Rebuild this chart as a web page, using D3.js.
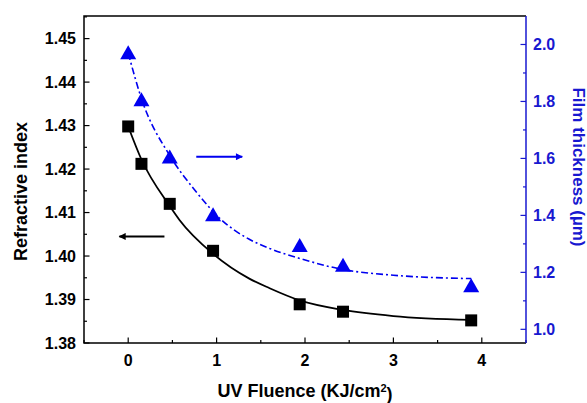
<!DOCTYPE html>
<html>
<head>
<meta charset="utf-8">
<script src="https://cdn.jsdelivr.net/npm/d3@7"></script>
<style>
	body { margin: 0; background: #fff; }
	text { font-family: "Liberation Sans", Arial, sans-serif; font-weight: bold; }
</style>
</head>
<body>
<script>
// measured points
const fluence = [0, 0.15, 0.47, 0.96, 1.94, 2.43, 3.88];
const refIndex = [1.4298, 1.4212, 1.4120, 1.4012, 1.3889, 1.3872, 1.3852];
const thickness = [1.973, 1.808, 1.607, 1.404, 1.296, 1.227, 1.155];

// fitted curves
const fitX = [0, 0.15, 0.47, 0.58, 0.96, 1.37, 1.6, 1.94, 2.43, 3.0, 3.88];
const fitIndex = [1.4298, 1.4222, 1.4115, 1.4083, 1.4005, 1.3948, 1.3926, 1.3898, 1.3876, 1.3862, 1.3853];
const fitBlueX = [0, 0.15, 0.47, 0.75, 1.07, 1.37, 1.6, 1.94, 2.43, 3.0, 3.88];
const fitThick = [1.97, 1.81, 1.61, 1.49, 1.38, 1.316, 1.284, 1.249, 1.21, 1.19, 1.178];

const xTicks = [0, 1, 2, 3, 4];
const leftTicks = [1.38, 1.39, 1.40, 1.41, 1.42, 1.43, 1.44, 1.45];
const rightTicks = [1.0, 1.2, 1.4, 1.6, 1.8, 2.0];

const width = 587, height = 403;
const margin = {top: 16, right: 61, bottom: 60, left: 84};
const blue = '#0000f0';
const axisBlue = '#1818d0';

let svg = d3.select('body').append('svg')
	.attr('width', width)
	.attr('height', height);

let x = d3.scaleLinear().domain([-0.5, 4.5]).range([margin.left, width - margin.right]);
let yL = d3.scaleLinear().domain([1.38, 1.4552]).range([height - margin.bottom, margin.top]);
let yR = d3.scaleLinear().domain([0.952, 2.1]).range([height - margin.bottom, margin.top]);

let x0 = margin.left, x1 = width - margin.right;
let y0 = height - margin.bottom, y1 = margin.top;

// minor ticks
let minorX = d3.range(-0.5, 4.51, 0.5).filter(v => Math.abs(v - Math.round(v)) > 0.01);
let minorL = d3.range(1.385, 1.455, 0.01);
let minorR = d3.range(1.1, 2.0, 0.2);

let g = svg.append('g');
g.selectAll('.mx').data(minorX).enter().append('line')
	.attr('x1', d => x(d)).attr('x2', d => x(d))
	.attr('y1', y0).attr('y2', y0 - 3)
	.style('stroke', '#000').style('stroke-width', 1.2);
g.selectAll('.Mx').data(xTicks).enter().append('line')
	.attr('x1', d => x(d)).attr('x2', d => x(d))
	.attr('y1', y0).attr('y2', y0 - 5.5)
	.style('stroke', '#000').style('stroke-width', 1.2);
g.selectAll('.ml').data(minorL).enter().append('line')
	.attr('x1', x0).attr('x2', x0 + 3)
	.attr('y1', d => yL(d)).attr('y2', d => yL(d))
	.style('stroke', '#000').style('stroke-width', 1.2);
g.selectAll('.Ml').data(leftTicks).enter().append('line')
	.attr('x1', x0).attr('x2', x0 + 5.5)
	.attr('y1', d => yL(d)).attr('y2', d => yL(d))
	.style('stroke', '#000').style('stroke-width', 1.2);
g.selectAll('.mr').data(minorR).enter().append('line')
	.attr('x1', x1).attr('x2', x1 - 3)
	.attr('y1', d => yR(d)).attr('y2', d => yR(d))
	.style('stroke', axisBlue).style('stroke-width', 1.2);
g.selectAll('.Mr').data(rightTicks).enter().append('line')
	.attr('x1', x1).attr('x2', x1 - 5.5)
	.attr('y1', d => yR(d)).attr('y2', d => yR(d))
	.style('stroke', axisBlue).style('stroke-width', 1.2);

// tick labels
g.selectAll('.tx').data(xTicks).enter().append('text')
	.attr('x', d => x(d)).attr('y', y0 + 23)
	.attr('text-anchor', 'middle')
	.style('font-size', '16px')
	.text(d => d);
g.selectAll('.tl').data(leftTicks).enter().append('text')
	.attr('x', x0 - 8).attr('y', d => yL(d)).attr('dy', '0.36em')
	.attr('text-anchor', 'end')
	.style('font-size', '16px')
	.text(d => d.toFixed(2));
g.selectAll('.tr').data(rightTicks).enter().append('text')
	.attr('x', x1 + 7).attr('y', d => yR(d)).attr('dy', '0.36em')
	.style('font-size', '16px').style('fill', axisBlue)
	.text(d => d.toFixed(1));

// fit curves
let blackLine = d3.line().x(d => x(d[0])).y(d => yL(d[1])).curve(d3.curveMonotoneX);
let blueLine = d3.line().x(d => x(d[0])).y(d => yR(d[1])).curve(d3.curveMonotoneX);

svg.append('path')
	.attr('d', blackLine(d3.zip(fitX, fitIndex)))
	.style('fill', 'none').style('stroke', '#000').style('stroke-width', 1.8);
svg.append('path')
	.attr('d', blueLine(d3.zip(fitBlueX, fitThick)))
	.style('fill', 'none').style('stroke', blue).style('stroke-width', 1.6)
	.style('stroke-dasharray', '7,3,2,3');

// markers
let sq = 12;
svg.selectAll('rect.pt').data(d3.zip(fluence, refIndex)).enter().append('rect')
	.attr('x', d => x(d[0]) - sq / 2)
	.attr('y', d => yL(d[1]) - sq / 2)
	.attr('width', sq).attr('height', sq)
	.style('fill', '#000');

let tw = 16, th = 14;
svg.selectAll('path.tri').data(d3.zip(fluence, thickness)).enter().append('path')
	.attr('d', d => {
		let cx = x(d[0]), cy = yR(d[1]);
		return `M${cx},${cy - th / 2}L${cx + tw / 2},${cy + th / 2}L${cx - tw / 2},${cy + th / 2}Z`;
	})
	.style('fill', blue);

// arrows
svg.append('defs').selectAll('marker')
	.data([['headK', '#000'], ['headB', blue]])
	.enter().append('marker')
	.attr('id', d => d[0])
	.attr('viewBox', '0 0 10 10')
	.attr('refX', 9).attr('refY', 5)
	.attr('markerWidth', 4.5).attr('markerHeight', 3.5)
	.attr('orient', 'auto')
	.attr('markerUnits', 'strokeWidth')
	.append('path')
	.attr('d', 'M0,0L10,5L0,10Z')
	.style('fill', d => d[1]);

svg.append('line')
	.attr('x1', x(0.41)).attr('x2', x(-0.10))
	.attr('y1', yL(1.4045)).attr('y2', yL(1.4045))
	.style('stroke', '#000').style('stroke-width', 2)
	.attr('marker-end', 'url(#headK)');
svg.append('line')
	.attr('x1', x(0.77)).attr('x2', x(1.29))
	.attr('y1', yR(1.606)).attr('y2', yR(1.606))
	.style('stroke', blue).style('stroke-width', 2)
	.attr('marker-end', 'url(#headB)');

// frame
svg.append('path')
	.attr('d', `M${x1},${y1}L${x0},${y1}L${x0},${y0}L${x1},${y0}`)
	.style('fill', 'none').style('stroke', '#000').style('stroke-width', 1.5);
svg.append('line')
	.attr('x1', x1).attr('x2', x1).attr('y1', y1).attr('y2', y0)
	.style('stroke', axisBlue).style('stroke-width', 1.5);

// axis titles
svg.append('text')
	.attr('transform', `translate(27,${(y0 + y1) / 2 + 12}) rotate(-90)`)
	.attr('text-anchor', 'middle')
	.style('font-size', '18px')
	.text('Refractive index');
svg.append('text')
	.attr('transform', `translate(573,167) rotate(90)`)
	.attr('text-anchor', 'middle')
	.style('font-size', '17px').style('fill', axisBlue)
	.text('Film thickness (\u00b5m)');
let xt = svg.append('text')
	.attr('x', 305).attr('y', 397)
	.attr('text-anchor', 'middle')
	.style('font-size', '18px');
xt.append('tspan').text('UV Fluence (KJ/cm');
xt.append('tspan').attr('dy', '-0.45em').style('font-size', '11px').text('2');
xt.append('tspan').attr('dy', '0.45em').text(')');
</script>
</body>
</html>
